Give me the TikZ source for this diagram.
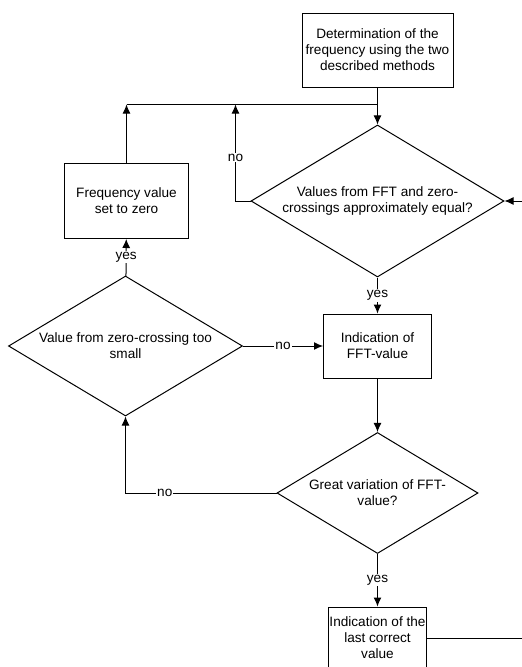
\documentclass[tikz,border=0pt]{standalone}
\usepackage{fontspec}
\setmainfont{Liberation Sans}
\usetikzlibrary{arrows,shapes,positioning,arrows.meta,calc}

\begin{document}
\begin{tikzpicture}[x=1pt, y=-1pt, >={Latex[length=9pt,width=8pt]}, line width=1pt,
    font=\fontsize{13.6}{16}\selectfont]

        \tikzstyle{block} = [draw, rectangle, align=center, inner sep=1pt]
        \tikzstyle{decision} = [draw, diamond, align=center, inner sep=0pt, aspect=1.66]
        \tikzstyle{lab} = [fill=white, inner sep=1pt]

        \useasboundingbox (0,0) rectangle (522,667);
        \clip (0,0) rectangle (522,667);

        \node [block, minimum width=151pt, minimum height=74pt] (det) at (377.5,50)
            {Determination of the\\frequency using the two\\described methods};

        \node [decision, below of=det, node distance=151pt, minimum width=253pt, minimum height=152pt] (equal)
            {Values from FFT and zero-\\crossings approximately equal?};

        \node [block, left of=equal, node distance=251pt, minimum width=124pt, minimum height=75pt] (zero)
            {Frequency value\\set to zero};

        \node [block, below of=equal, node distance=145pt, minimum width=108pt, minimum height=64pt] (fft)
            {Indication of\\FFT-value};

        \node [decision, left of=fft, node distance=252pt, minimum width=234pt, minimum height=140pt] (small)
            {Value from zero-crossing too\\small};

        \node [decision, below of=fft, node distance=147pt, minimum width=201pt, minimum height=121pt] (vary)
            {Great variation of FFT-\\value?};

        \node [block, below of=vary, node distance=145pt, minimum width=98pt, minimum height=62pt] (last)
            {Indication of the\\last correct\\value};

        \coordinate (join) at ($(det.south)+(0,17)$);
        \coordinate (back) at ($(equal.west)+(-15,0)$);

        \draw [->] (det) -- (equal);
        \draw [->] (zero) -- (zero |- join);
        \draw (zero |- join) -- (join);
        \draw [->] (equal.west) -- (back) -- node [lab, pos=0.45] {no} (back |- join);

        \draw [->] (equal) -- node [lab] {yes} (fft);
        \draw [->] (small) -- node [lab] {yes} (zero);
        \draw [->] (small.east) -- node [lab] {no} (fft.west |- small.east);

        \draw [->] (fft) -- (vary);
        \draw [->] (vary.west) -| node [lab, pos=0.37] {no} (small.south);
        \draw [->] (vary) -- node [lab] {yes} (last);

        \draw [->] (last.east) -- ++(110,0) |- (equal.east);

\end{tikzpicture}
\end{document}
